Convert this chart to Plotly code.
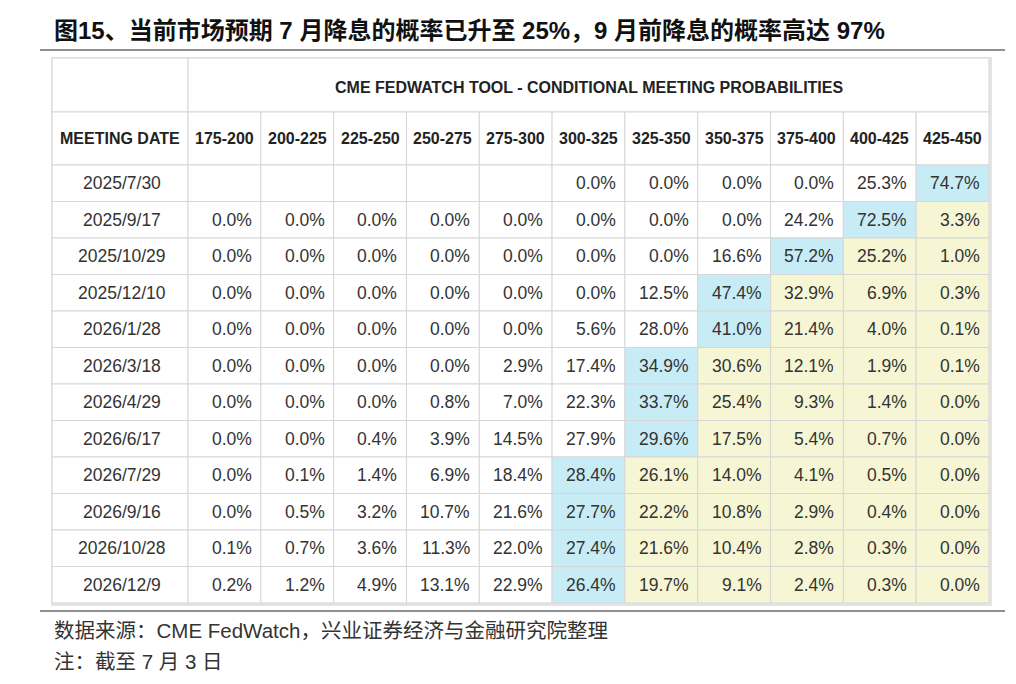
import plotly.graph_objects as go

dates = ['2025/7/30', '2025/9/17', '2025/10/29', '2025/12/10', '2026/1/28', '2026/3/18',
         '2026/4/29', '2026/6/17', '2026/7/29', '2026/9/16', '2026/10/28', '2026/12/9']
ranges = ['175-200', '200-225', '225-250', '250-275', '275-300', '300-325',
          '325-350', '350-375', '375-400', '400-425', '425-450']
probs = [
    [None, None, None, None, None, 0.0, 0.0, 0.0, 0.0, 25.3, 74.7],
    [0.0, 0.0, 0.0, 0.0, 0.0, 0.0, 0.0, 0.0, 24.2, 72.5, 3.3],
    [0.0, 0.0, 0.0, 0.0, 0.0, 0.0, 0.0, 16.6, 57.2, 25.2, 1.0],
    [0.0, 0.0, 0.0, 0.0, 0.0, 0.0, 12.5, 47.4, 32.9, 6.9, 0.3],
    [0.0, 0.0, 0.0, 0.0, 0.0, 5.6, 28.0, 41.0, 21.4, 4.0, 0.1],
    [0.0, 0.0, 0.0, 0.0, 2.9, 17.4, 34.9, 30.6, 12.1, 1.9, 0.1],
    [0.0, 0.0, 0.0, 0.8, 7.0, 22.3, 33.7, 25.4, 9.3, 1.4, 0.0],
    [0.0, 0.0, 0.4, 3.9, 14.5, 27.9, 29.6, 17.5, 5.4, 0.7, 0.0],
    [0.0, 0.1, 1.4, 6.9, 18.4, 28.4, 26.1, 14.0, 4.1, 0.5, 0.0],
    [0.0, 0.5, 3.2, 10.7, 21.6, 27.7, 22.2, 10.8, 2.9, 0.4, 0.0],
    [0.1, 0.7, 3.6, 11.3, 22.0, 27.4, 21.6, 10.4, 2.8, 0.3, 0.0],
    [0.2, 1.2, 4.9, 13.1, 22.9, 26.4, 19.7, 9.1, 2.4, 0.3, 0.0],
]

title = '图15、当前市场预期 7 月降息的概率已升至 25%，9 月前降息的概率高达 97%'
source = '数据来源：CME FedWatch，兴业证券经济与金融研究院整理'
note = '注：截至 7 月 3 日'

FONT = 'Liberation Sans, Noto Sans CJK SC, sans-serif'
X0, X1, XC = 52, 989, 188
CW = (X1 - XC) / len(ranges)
Y0, YH1, YH2, RH = 58, 112, 165, 36.5
GRID = '#d6d6d6'

fig = go.Figure()
shapes, ann = [], []

def rect(x0, y0, x1, y1, fill):
    shapes.append(dict(type='rect', x0=x0, x1=x1, y0=y0, y1=y1, xref='x', yref='y',
                       fillcolor=fill, line=dict(color=GRID, width=1), layer='below'))

def text(x, y, s, size=14, anchor='center', bold=False, color='#333'):
    ann.append(dict(x=x, y=y, xref='x', yref='y', text=f'<b>{s}</b>' if bold else s,
                    showarrow=False, xanchor=anchor, yanchor='middle',
                    font=dict(family=FONT, size=size, color=color)))

yend = YH2 + RH * len(dates)
# outer shadow box
shapes.append(dict(type='rect', x0=X0 - 1, x1=X1 + 3, y0=Y0 - 1, y1=yend + 3, xref='x', yref='y',
                   fillcolor='#e4e4e4', line=dict(width=0), layer='below'))
rect(X0, Y0, XC, YH1, 'white')
rect(XC, Y0, X1, YH1, 'white')
text((XC + X1) / 2, (Y0 + YH1) / 2 + 2, 'CME FEDWATCH TOOL - CONDITIONAL MEETING PROBABILITIES',
     size=16, bold=True, color='#222')
rect(X0, YH1, XC, YH2, 'white')
text((X0 + XC) / 2, (YH1 + YH2) / 2, 'MEETING DATE', size=16, bold=True, color='#222')
for j, r in enumerate(ranges):
    rect(XC + j * CW, YH1, XC + (j + 1) * CW, YH2, 'white')
    text(XC + (j + 0.5) * CW, (YH1 + YH2) / 2, r, size=16, bold=True, color='#222')

for i, d in enumerate(dates):
    y0 = YH2 + i * RH
    rect(X0, y0, XC, y0 + RH, 'white')
    text((X0 + XC) / 2 + 2, y0 + RH / 2, d, size=17.5)
    row = probs[i]
    vals = [v if v is not None else -1 for v in row]
    imax = vals.index(max(vals))
    for j, v in enumerate(row):
        fill = '#c8ecf6' if j == imax else ('#f6f6d5' if j > imax else 'white')
        rect(XC + j * CW, y0, XC + (j + 1) * CW, y0 + RH, fill)
        if v is not None:
            text(XC + (j + 1) * CW - 7, y0 + RH / 2, f'{v:.1f}%', size=17.5, anchor='right')

# title / footer lines
shapes.append(dict(type='line', x0=40, x1=1005, y0=50, y1=50, xref='x', yref='y',
                   line=dict(color='#222', width=1.2)))
shapes.append(dict(type='line', x0=40, x1=1005, y0=611, y1=611, xref='x', yref='y',
                   line=dict(color='#222', width=1.2)))
text(52, 30, title, size=24, anchor='left', bold=True, color='#111')
text(52, 630, source, size=20.5, anchor='left', color='#333')
text(52, 661, note, size=20.5, anchor='left', color='#333')

# page body has an 8px margin, so shift the ranges to keep pixel coordinates
fig.update_layout(width=1016, height=684, margin=dict(l=0, r=0, t=0, b=0),
                  plot_bgcolor='white', paper_bgcolor='white',
                  shapes=shapes, annotations=ann, showlegend=False)
fig.update_xaxes(range=[8, 1024], visible=False, fixedrange=True)
fig.update_yaxes(range=[692, 8], visible=False, fixedrange=True)
fig.write_html('out.html')
